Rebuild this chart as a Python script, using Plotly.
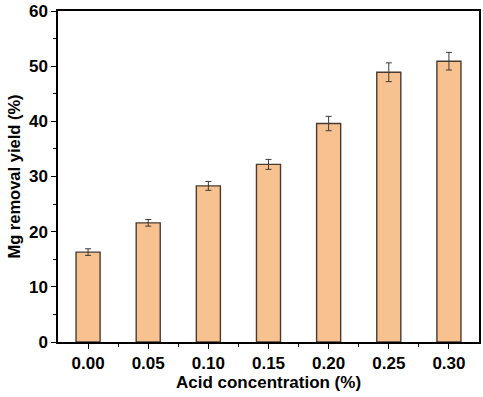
import plotly.graph_objects as go

categories = ["0.00", "0.05", "0.10", "0.15", "0.20", "0.25", "0.30"]
removal_yield = [16.3, 21.6, 28.3, 32.2, 39.6, 48.9, 50.9]
yield_error = [0.6, 0.6, 0.8, 0.9, 1.3, 1.7, 1.6]
y_ticks = [0, 10, 20, 30, 40, 50, 60]

xpos = list(range(len(categories)))

fig = go.Figure()
fig.add_trace(go.Bar(
    x=xpos, y=removal_yield, width=0.4,
    marker=dict(color="#F8C290", line=dict(color="#4a3b30", width=1.4)),
    error_y=dict(type="data", array=yield_error, color="#3a3a3a", thickness=1, width=3),
))

font_family = "Liberation Sans, Arial, sans-serif"
fig.update_layout(
    width=483, height=397,
    margin=dict(l=58, r=4, t=11, b=55),
    plot_bgcolor="white", paper_bgcolor="white",
    showlegend=False,
    font=dict(family=font_family, color="black"),
)
fig.update_xaxes(
    range=[-0.5, 6.5], tickvals=xpos, ticktext=[f"<b>{c}</b>" for c in categories],
    ticks="outside", ticklen=5, tickwidth=1.3, tickcolor="black",
    showline=True, linecolor="black", linewidth=1.5, mirror=True,
    showgrid=False, zeroline=False, automargin=False,
    tickfont=dict(size=17, family=font_family),
    minor=dict(tickvals=[i + 0.5 for i in range(6)], ticks="outside", ticklen=3, tickcolor="black", showgrid=False),
    title=dict(text="<b>Acid concentration (%)</b>", font=dict(size=17, family=font_family), standoff=4),
)
fig.update_yaxes(
    range=[0, 60], tickvals=y_ticks,
    ticktext=[f"<b>{v}</b>" for v in y_ticks],
    ticks="outside", ticklen=5, tickwidth=1.3, tickcolor="black",
    showline=True, linecolor="black", linewidth=1.5, mirror=True,
    showgrid=False, zeroline=False, automargin=False,
    tickfont=dict(size=17, family=font_family),
    minor=dict(dtick=5, ticks="outside", ticklen=3, tickcolor="black", showgrid=False),
    title=dict(text="<b>Mg removal yield (%)</b>", font=dict(size=16.5, family=font_family), standoff=4),
)

fig.write_html(
    "out.html",
    config={"displayModeBar": False},
    post_script="document.body.style.margin='0';document.body.style.overflow='hidden';",
)
